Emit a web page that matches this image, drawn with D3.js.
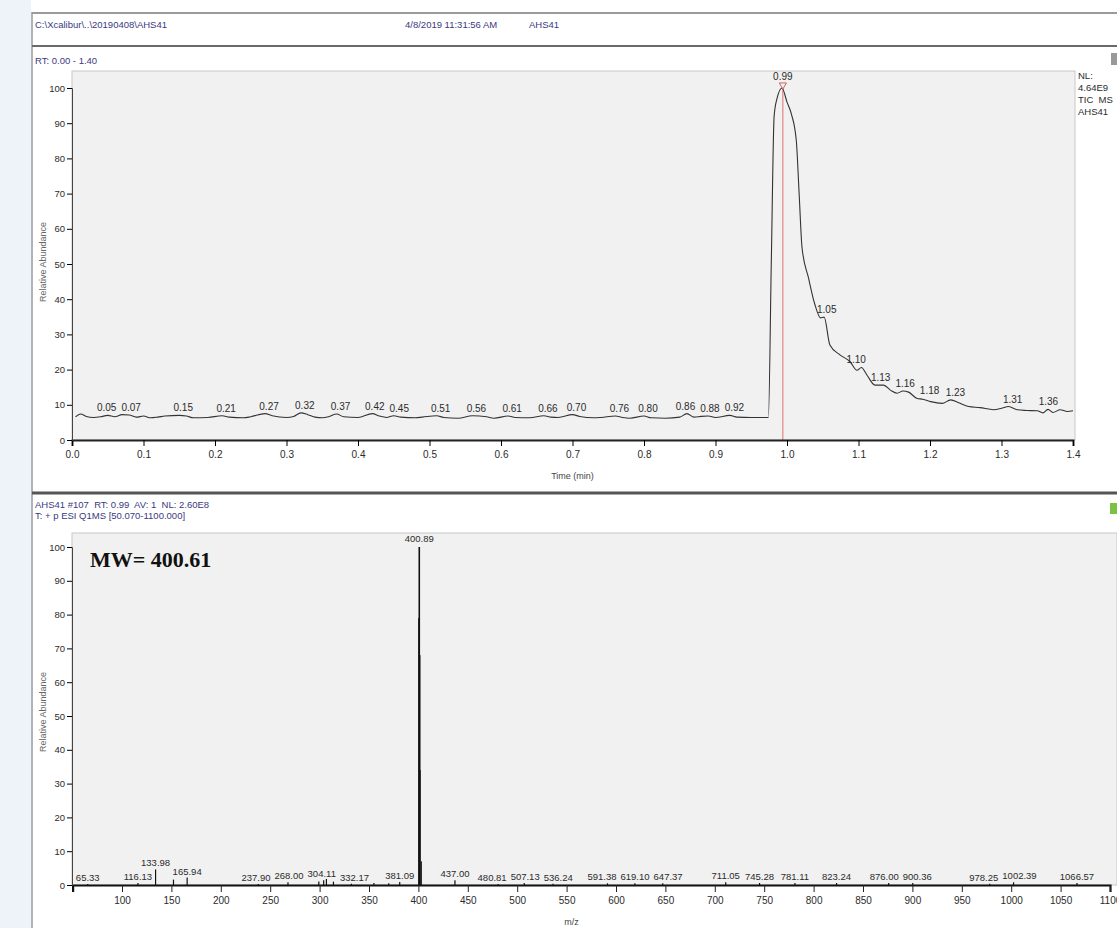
<!DOCTYPE html>
<html>
<head>
<meta charset="utf-8">
<script src="https://cdn.jsdelivr.net/npm/d3@7"></script>
<style>
  body { margin: 0; background: #fff; }
  svg { display: block; font-family: "Liberation Sans", Arial, sans-serif; }
</style>
</head>
<body>
<div class="chart"></div>
<script>
// chromatogram (TIC)
const ticTime = [0.005,0.012,0.02,0.03,0.04,0.05,0.06,0.07,0.08,0.09,0.10,0.11,0.12,0.13,0.15,0.16,0.17,0.19,0.21,0.22,0.24,0.25,0.27,0.28,0.30,0.31,0.32,0.33,0.34,0.35,0.36,0.37,0.38,0.40,0.42,0.43,0.44,0.45,0.46,0.48,0.49,0.51,0.52,0.54,0.56,0.58,0.59,0.61,0.62,0.64,0.66,0.67,0.68,0.70,0.71,0.73,0.74,0.76,0.77,0.78,0.80,0.81,0.83,0.85,0.86,0.87,0.88,0.89,0.90,0.92,0.93,0.95,0.974,0.978,0.982,0.986,0.993,1.000,1.006,1.013,1.017,1.021,1.030,1.039,1.047,1.052,1.060,1.074,1.088,1.098,1.104,1.112,1.123,1.135,1.145,1.154,1.162,1.170,1.182,1.190,1.201,1.217,1.229,1.240,1.254,1.270,1.289,1.300,1.310,1.322,1.335,1.350,1.358,1.365,1.372,1.382,1.392,1.400];
const ticAbund = [6.6,7.4,6.7,6.4,6.6,7.0,6.6,7.2,7.1,6.5,6.8,6.3,6.5,6.8,7.0,6.8,6.3,6.4,6.9,6.5,6.3,6.6,7.5,6.9,6.4,6.7,7.7,7.2,6.5,6.3,6.7,7.4,6.6,6.4,7.5,6.8,6.4,6.9,6.5,6.3,6.5,6.9,6.4,6.2,6.9,6.6,6.2,6.8,6.4,6.3,6.9,6.5,6.4,7.2,6.7,6.3,6.4,6.8,6.4,6.2,6.8,6.3,6.2,6.5,7.5,6.5,6.7,6.8,6.4,7.0,6.5,6.4,6.4,50,92,97,100,96,92.7,85.1,69.9,54.7,46.1,38.5,34.7,34.9,27.0,24.2,22.3,19.8,20.6,18.4,15.6,15.6,14.1,13.3,13.9,13.6,11.8,11.6,10.9,10.4,11.4,10.6,9.5,9.2,8.6,9.0,9.5,8.6,8.4,8.3,7.7,8.7,7.8,8.6,8.1,8.3];
const rtLabels = [0.05,0.07,0.15,0.21,0.27,0.32,0.37,0.42,0.45,0.51,0.56,0.61,0.66,0.70,0.76,0.80,0.86,0.88,0.92,1.05,1.10,1.13,1.16,1.18,1.23,1.31,1.36];
const rtApex = 0.99;
const rtTicks = [0,0.1,0.2,0.3,0.4,0.5,0.6,0.7,0.8,0.9,1.0,1.1,1.2,1.3,1.4];

// mass spectrum at RT 0.99
const mzValues = [65.33,116.13,133.98,152.10,165.94,237.90,268.00,299.20,304.11,306.90,314.00,332.17,355.00,370.00,381.09,400.60,400.89,401.30,401.70,402.90,437.00,480.81,507.13,536.24,591.38,619.10,647.37,711.05,745.28,781.11,823.24,876.00,900.36,978.25,1002.39,1066.57];
const mzIntensity = [0.3,0.6,4.6,1.6,2.2,0.3,0.8,1.0,1.4,1.8,1.0,0.4,0.6,0.5,0.9,79,100,68,34,7,1.4,0.3,0.6,0.4,0.5,0.5,0.5,0.8,0.6,0.6,0.6,0.6,0.6,0.4,0.8,0.6];
const mzLabels = [65.33,116.13,133.98,165.94,237.90,268.00,304.11,332.17,381.09,400.89,437.00,480.81,507.13,536.24,591.38,619.10,647.37,711.05,745.28,781.11,823.24,876.00,900.36,978.25,1002.39,1066.57];
const mzTicks = [100,150,200,250,300,350,400,450,500,550,600,650,700,750,800,850,900,950,1000,1050,1100];
const abundTicks = [0,10,20,30,40,50,60,70,80,90,100];

const W = 1117, H = 928;
const navy = "#3a3a80";
const ink = "#2b2b2b";

const svg = d3.select(".chart").append("svg")
    .attr("width", W).attr("height", H)
    .attr("viewBox", [0, 0, W, H]);

// push neighbouring labels apart so they do not overlap
const spread = (sel, gap) => {
  const items = sel.nodes().map(n => ({n, x: +n.getAttribute("x"), w: n.getComputedTextLength()}));
  for (let it = 0; it < 60; it++) {
    for (let i = 1; i < items.length; i++) {
      const need = (items[i - 1].w + items[i].w) / 2 + gap;
      const d = items[i].x - items[i - 1].x;
      if (d < need) {
        const s = (need - d) / 2;
        items[i - 1].x -= s;
        items[i].x += s;
      }
    }
  }
  items.forEach(o => o.n.setAttribute("x", o.x));
};

// window frame
svg.append("rect").attr("x", 0).attr("y", 0).attr("width", 31).attr("height", H).attr("fill", "#eef2f9");
svg.append("line").attr("x1", 32).attr("x2", 32).attr("y1", 12).attr("y2", H).attr("stroke", "#9a9a9a").attr("stroke-width", 1.5);
svg.append("line").attr("x1", 32).attr("x2", W).attr("y1", 13).attr("y2", 13).attr("stroke", "#9a9a9a").attr("stroke-width", 2);
svg.append("line").attr("x1", 32).attr("x2", W).attr("y1", 46).attr("y2", 46).attr("stroke", "#6a6a6a").attr("stroke-width", 2);
svg.append("line").attr("x1", 32).attr("x2", W).attr("y1", 493).attr("y2", 493).attr("stroke", "#555").attr("stroke-width", 3);

const header = svg.append("g").attr("font-size", 9.5).attr("fill", navy);
header.append("text").attr("x", 35).attr("y", 28).text("C:\\Xcalibur\\..\\20190408\\AHS41");
header.append("text").attr("x", 405).attr("y", 28).text("4/8/2019 11:31:56 AM");
header.append("text").attr("x", 529).attr("y", 28).text("AHS41");
header.append("text").attr("x", 35).attr("y", 64).text("RT: 0.00 - 1.40");
header.append("text").attr("x", 35).attr("y", 508).text("AHS41 #107  RT: 0.99  AV: 1  NL: 2.60E8").attr("xml:space", "preserve");
header.append("text").attr("x", 35).attr("y", 519).text("T: + p ESI Q1MS [50.070-1100.000]");

// ---------- top: chromatogram ----------
const xT = d3.scaleLinear().domain([0, 1.4]).range([72, 1073]);
const yT = d3.scaleLinear().domain([0, 100]).range([440, 88]);

svg.append("rect").attr("x", 72).attr("y", 71).attr("width", 1003).attr("height", 369)
    .attr("fill", "#f1f1f1").attr("stroke", "#c8c8c8");

const tic = ticTime.map((t, i) => ({t, v: ticAbund[i]}));
const line = d3.line().x(d => xT(d.t)).y(d => yT(d.v)).curve(d3.curveMonotoneX);

svg.append("line").attr("x1", xT(rtApex) + 3).attr("x2", xT(rtApex) + 3)
    .attr("y1", yT(100)).attr("y2", yT(0)).attr("stroke", "#e07070").attr("stroke-width", 1);

svg.append("path").datum(tic).attr("d", line)
    .attr("fill", "none").attr("stroke", "#333").attr("stroke-width", 1.1);

const ticAt = t => {
  const near = tic.filter(d => Math.abs(d.t - t) <= 0.006);
  return near.length ? d3.max(near, d => d.v) : tic[d3.bisector(d => d.t).center(tic, t)].v;
};

const rtText = svg.append("g").attr("font-size", 10).attr("fill", ink).attr("text-anchor", "middle")
  .selectAll("text").data(rtLabels).join("text")
    .attr("x", d => xT(d) + 4)
    .attr("y", d => yT(ticAt(d)) - 4)
    .text(d => d.toFixed(2));
spread(rtText, 5);

svg.append("path")
    .attr("d", d3.symbol(d3.symbolTriangle, 22)())
    .attr("transform", `translate(${xT(rtApex) + 3},${yT(100) - 3}) rotate(180)`)
    .attr("fill", "none").attr("stroke", "#d06060");
svg.append("text").attr("x", xT(rtApex) + 3).attr("y", yT(100) - 8)
    .attr("font-size", 10).attr("fill", ink).attr("text-anchor", "middle").text(rtApex.toFixed(2));

// axes
const gxT = svg.append("g").attr("transform", `translate(0,${yT(0)})`);
gxT.call(d3.axisBottom(xT).tickValues(d3.range(0, 1.4001, 0.01)).tickSize(3).tickFormat(""));
gxT.call(d3.axisBottom(xT).tickValues(rtTicks).tickSize(6).tickFormat(d3.format(".1f")));
gxT.selectAll("path").attr("stroke", "#222").attr("stroke-width", 2);
gxT.selectAll("text").attr("font-size", 10).attr("fill", ink).attr("dy", "0.9em");

const gyT = svg.append("g").attr("transform", "translate(72,0)");
gyT.call(d3.axisLeft(yT).tickValues(d3.range(0, 101, 2)).tickSize(3).tickFormat(""));
gyT.call(d3.axisLeft(yT).tickValues(abundTicks).tickSize(5).tickPadding(2));
gyT.selectAll("path").attr("stroke", "#444");
gyT.selectAll("text").attr("font-size", 9.5).attr("fill", ink);

svg.append("text").attr("x", xT(0.7)).attr("y", 479).attr("font-size", 9).attr("fill", "#444")
    .attr("text-anchor", "middle").text("Time (min)");
svg.append("text").attr("transform", "translate(46,262) rotate(-90)").attr("font-size", 9).attr("fill", "#666")
    .attr("text-anchor", "middle").text("Relative Abundance");

const side = svg.append("g").attr("font-size", 9.5).attr("fill", ink);
["NL:", "4.64E9", "TIC  MS", "AHS41"].forEach((s, i) =>
  side.append("text").attr("x", 1078).attr("y", 79 + i * 12).attr("xml:space", "preserve").text(s));
svg.append("rect").attr("x", 1111).attr("y", 53).attr("width", 6).attr("height", 12).attr("fill", "#999");

// ---------- bottom: mass spectrum ----------
const xB = d3.scaleLinear().domain([50, 1100]).range([72.6, 1110]);
const yB = d3.scaleLinear().domain([0, 100]).range([885, 547]);

svg.append("rect").attr("x", 72).attr("y", 533).attr("width", 1045).attr("height", 352)
    .attr("fill", "#f1f1f1").attr("stroke", "#c8c8c8");
svg.append("rect").attr("x", 1110).attr("y", 503).attr("width", 7).attr("height", 11).attr("fill", "#7bc142");

const spec = mzValues.map((m, i) => ({m, v: mzIntensity[i]}));
svg.append("g").selectAll("line").data(spec).join("line")
    .attr("x1", d => xB(d.m)).attr("x2", d => xB(d.m))
    .attr("y1", yB(0)).attr("y2", d => yB(d.v))
    .attr("stroke", "#111").attr("stroke-width", d => d.v > 50 ? 1.6 : 1.2);

const specAt = m => spec.find(d => d.m === m).v;
const mzText = svg.append("g").attr("font-size", 9.5).attr("fill", ink).attr("text-anchor", "middle")
  .selectAll("text").data(mzLabels).join("text")
    .attr("x", d => xB(d))
    .attr("y", d => yB(specAt(d)) - (d === 400.89 ? 5 : 3))
    .text(d => d.toFixed(2));
spread(mzText.filter(d => d !== 400.89 && d !== 133.98), 4);

const gxB = svg.append("g").attr("transform", `translate(0,${yB(0)})`);
gxB.call(d3.axisBottom(xB).tickValues(d3.range(60, 1101, 10)).tickSize(4).tickFormat(""));
gxB.call(d3.axisBottom(xB).tickValues(mzTicks).tickSize(7).tickFormat(d3.format("d")));
gxB.selectAll("path").attr("stroke", "#111").attr("stroke-width", 2.2);
gxB.selectAll("line").attr("stroke", "#222");
gxB.selectAll("text").attr("font-size", 10).attr("fill", ink).attr("dy", "0.9em");

const gyB = svg.append("g").attr("transform", "translate(72,0)");
gyB.call(d3.axisLeft(yB).tickValues(d3.range(0, 101, 2)).tickSize(3).tickFormat(""));
gyB.call(d3.axisLeft(yB).tickValues(abundTicks).tickSize(5).tickPadding(2));
gyB.selectAll("path").attr("stroke", "#444");
gyB.selectAll("text").attr("font-size", 9.5).attr("fill", ink);

svg.append("text").attr("x", xB(555)).attr("y", 925).attr("font-size", 9).attr("fill", "#444")
    .attr("text-anchor", "middle").text("m/z");
svg.append("text").attr("transform", "translate(46,712) rotate(-90)").attr("font-size", 9).attr("fill", "#666")
    .attr("text-anchor", "middle").text("Relative Abundance");

svg.append("text").attr("x", 90).attr("y", 567)
    .attr("font-family", "'Liberation Serif', 'Times New Roman', serif")
    .attr("font-weight", "bold").attr("font-size", 22).attr("fill", "#111")
    .text("MW= 400.61");
</script>
</body>
</html>
